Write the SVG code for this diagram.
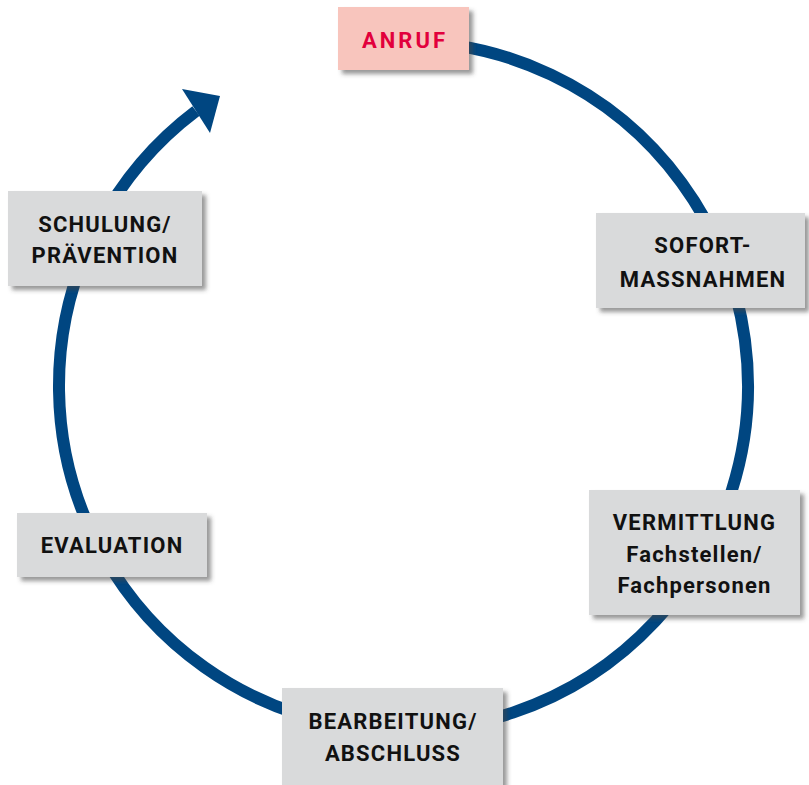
<svg xmlns="http://www.w3.org/2000/svg" width="809" height="785" viewBox="0 0 809 785">
<defs>
<filter id="sh" x="-10%" y="-10%" width="130%" height="140%">
<feDropShadow dx="4" dy="4" stdDeviation="2" flood-color="#444" flood-opacity="0.55"/>
</filter>
<style>
.box{fill:#d9dadb;filter:url(#sh)}
.pink{fill:#f8c5bd;filter:url(#sh)}
.t{font-family:Roboto,"Liberation Sans",sans-serif;font-weight:bold;font-size:22px;fill:#111;text-anchor:middle;letter-spacing:1.2px}
.r{fill:#e2003c;letter-spacing:3px}
.ring{fill:none;stroke:#004681;stroke-width:12}
</style>
</defs>
<rect width="809" height="785" fill="#fff"/>
<g id="connectors">
<path class="ring" d="M403.5 41.5 A344.5 344.5 0 1 1 196 111"/>
<polygon points="182,89 220,96 210,133" fill="#004681"/>
</g>
<g id="anruf">
<rect class="pink" x="338" y="7" width="131" height="63"/>
<text class="t r" x="405" y="48">ANRUF</text>
</g>
<g id="sofort">
<rect class="box" x="596" y="213" width="209" height="95"/>
<text class="t" x="703" y="253">SOFORT-</text>
<text class="t" x="703" y="287">MASSNAHMEN</text>
</g>
<g id="vermittlung">
<rect class="box" x="589" y="490" width="211" height="125"/>
<text class="t" x="694.5" y="530">VERMITTLUNG</text>
<text class="t" x="694.5" y="562">Fachstellen/</text>
<text class="t" x="694.5" y="593">Fachpersonen</text>
</g>
<g id="bearbeitung">
<rect class="box" x="282" y="688" width="221" height="110"/>
<text class="t" x="393" y="729">BEARBEITUNG/</text>
<text class="t" x="393" y="761">ABSCHLUSS</text>
</g>
<g id="evaluation">
<rect class="box" x="17" y="513" width="190" height="64"/>
<text class="t" x="112" y="553">EVALUATION</text>
</g>
<g id="schulung">
<rect class="box" x="8" y="191" width="194" height="95"/>
<text class="t" x="105" y="232">SCHULUNG/</text>
<text class="t" x="105" y="263">PRÄVENTION</text>
</g>
</svg>
